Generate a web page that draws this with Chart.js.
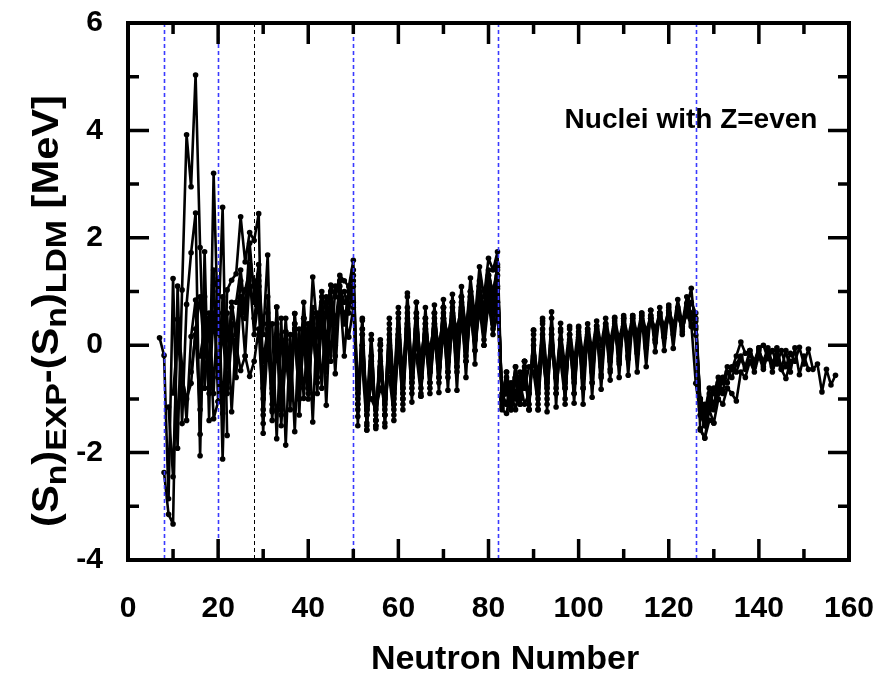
<!DOCTYPE html>
<html><head><meta charset="utf-8">
<script src="https://cdn.jsdelivr.net/npm/chart.js@4.4.1/dist/chart.umd.min.js"></script>
<style>html,body{margin:0;padding:0;background:#fff;}#wrap{width:878px;height:673px;}</style>
</head><body><div id="wrap"><canvas id="c" width="878" height="673"></canvas></div>
<script>
// ---- axis ticks ----
const xMajorTicks = [0,20,40,60,80,100,120,140,160];
const xMinorTicks = [10,30,50,70,90,110,130,150];
const yMajorTicks = [-4,-2,0,2,4,6];
const yMinorTicks = [-3,-1,1,3,5];
// ---- magic numbers (dashed guide lines) ----
const magicN = [8,20,28,50,82,126];
const magicColors = ['#3a3aff','#3a3aff','#000000','#3a3aff','#3a3aff','#3a3aff'];
// ---- isotopic chains: first neutron number and residuals (MeV) ----
const startA = 7;  const chainA = [0.14,-0.19,-2.86,1.24,-1.92,1.03,3.92,2.95,5.03,1.82,-0.80,0.50,-1.37,-1.05];
const startB = 8;  const chainB = [-2.37,-3.15,-3.33,1.10,-1.46,0.76,1.72,2.46,-2.06,1.74,-1.40,3.20,0.22,2.57,-1.68];
const startC = 9;  const chainC = [-1.15,-2.45,0.48,-0.37,-1.40,0.16,0.84,-1.66,0.47,-0.46,1.12,1.24,-2.12,1.03,1.21,1.33,2.39,1.55,2.10,1.95,2.45,-1.46];
const startD = 10; const chainD = [-0.89,0.10,-0.60,-1.00,-0.71,0.30,0.90,-0.20,0.60,-0.90,1.00,-1.27,0.60,-1.24,0.20,0.80,1.03,1.40,1.20,1.09,-0.80,0.40,-1.10];
const startE = 14; const chainE = [-0.50,0.20,-1.20,0.90,-0.80,1.40,-1.05,0.60,-0.40,0.80,0.20,1.20,0.70,1.50,1.10,1.30,0.20,1.68,-1.24,0.71,-1.20,0.25,-0.90,0.59,-1.30,0.50];
const startF = 16; const chainF = [-0.20,0.30,-0.90,0.60,-0.60,0.90,-0.40,0.70,0.10,0.90,0.50,1.10,0.80,1.20,-0.30,0.30,0.40,-1.74,0.50,-1.86,0.20,-1.61,0.30,-0.99,0.40,-1.43,0.60,-0.80,0.90,-0.30,1.10];
const startG = 28; const chainG = [0.50,1.10,-1.64,0.90,-1.20,0.71,-0.90,0.50,-0.70,0.59,-0.50,0.80,-0.30,1.27,0.30,1.00,0.60,1.12,0.90,1.30,1.20,1.09,1.58,-1.33,0.46,-1.58];
const startH = 22; const chainH = [-0.80,0.40,-0.60,0.90,-0.20,1.30,0.20,0.90,-1.00,0.40,-1.40,0.10,-1.30,0.25,-1.20,0.40,-1.00,0.50,-0.80,0.60,-0.90,0.70,-1.12,0.80,-0.53,1.00,-0.20,0.90,1.10,-1.20,0.20,-1.45,0.10,-1.50,0.03];
const startI = 20; const chainI = [-0.60,0.30,-0.90,0.10,0.00,-0.47,-0.20,-0.58,-0.30,0.30,-1.20,0.60,-0.80,0.20,-1.10,0.10,-0.90,0.30,-0.70,0.50,-0.60,0.70,-0.30,0.90,0.00,1.00,0.40,1.10,0.80];
const startJ = 32; const chainJ = [-0.50,0.20,-1.00,0.10,-0.80,0.40,-0.60,0.30,-0.90,0.40,-0.40,0.60,-0.30,0.70,0.00,0.90,0.40,1.00,0.80,-1.10,0.20,-1.20,-0.20,-1.40,0.10,-1.30,0.40,-1.10,0.60,-1.00];
const startK = 36; const chainK = [-0.30,0.20,-1.00,0.10,-0.80,0.30,-0.70,0.40,-0.50,0.60,0.20,0.80,0.60,0.15,0.70,-0.90,0.00,-1.10,0.20,-1.50,0.00,-1.20,0.50,-0.80,0.70,-0.90,0.97,-0.60,0.80,-0.95];
const startL = 24; const chainL = [0.80,1.40,0.60,1.90,0.90,1.50,-1.30,0.00,-0.90,0.40,-1.50,-0.20,-1.00,0.30,-0.80,0.20,-1.00,0.50,-0.60,0.80,-0.40,1.00,-0.20,1.20,0.40,1.00,1.40,-1.00,0.30,-1.30];
const startP1 = 57; const chainP1 = [-1.45,0.00,-1.20,0.50,-1.00,0.90,-0.80,0.80,-0.60,0.70,-0.50,0.75,-0.40,0.85,-0.30,0.95,-0.10,1.09,0.20,1.25,0.50,1.46,0.90,1.62,1.40,1.74,-1.10,-0.50,-1.00,-0.40,-1.00,-0.30];
const startP2 = 50; const chainP2 = [1.30,-1.50,0.30,-1.58,0.10,-1.55,0.00,-1.52,0.20,-1.40,0.30,-1.20,0.60,-1.06,0.50,-0.95,0.40,-0.90,0.50,-0.88,0.60,-0.84,0.70,-0.84,0.80,-0.60,0.90,-0.35,1.20,0.00,1.40,0.90,1.50,-1.20,-1.27,-0.80,-1.00,-0.60];
const startP3 = 48; const chainP3 = [1.00,0.60,1.20,-1.10,0.50,-1.30,-0.20,-1.40,-0.10,-1.30,0.10,-1.10,0.20,-0.90,0.40,-0.70,0.30,-0.60,0.20,-0.70,0.30,-0.60,0.50,-0.50,0.60,-0.40,0.70,-0.20,0.90,0.10,1.00,0.40,1.20,0.70,1.30,-1.00,-0.90,-1.10];
const startP4 = 52; const chainP4 = [-0.40,-1.50,-0.60,-1.30,-0.30,-1.10,0.30,-0.90,0.60,-0.60,0.70,-0.50,0.60,-0.40,0.50,-0.30,0.60,-0.20,0.70,0.00,0.80,0.10,0.90,0.30,1.00,0.50,1.10,0.70,1.20,0.90,1.10,-0.90,-1.10,-0.70,-0.90,-0.50,-0.80,-0.40];
const startP5 = 54; const chainP5 = [-1.00,-1.20,-0.80,-1.00,-0.40,-0.70,0.10,-0.40,0.30,-0.30,0.20,-0.20,0.30,-0.10,0.40,0.00,0.50,0.20,0.60,0.30,0.70,0.40,0.80,0.60,0.90,0.50,1.00,0.40,0.80,-1.00,-0.70,-1.20,-0.60,-1.10,-0.40,-1.20,0.28,-1.20,0.50,-1.10];
const startP6 = 60; const chainP6 = [0.20,-0.80,0.50,-0.70,0.50,-0.60,0.40,-0.50,0.60,-0.40,0.70,-0.30,0.80,-0.20,0.90,0.00,1.00,0.20,1.10,0.50,1.30,0.60,1.40,-1.00,-0.80,-1.10,-0.60,-1.00,-0.30,-1.10,0.20];
const startP7 = 51; const chainP7 = [-0.80,0.00,-1.20,-0.30,-1.40,-0.40,-1.30,-0.20,-1.00,0.10,-0.80,0.40,-0.60,0.60,-0.50,0.50,-0.40,0.60,-0.30,0.70,-0.20,0.80,-0.10,0.90,0.10,1.00,0.30,1.10,0.60,1.30,1.00,1.45,-1.15,-0.70,-1.05];
const startP8 = 58; const chainP8 = [-0.60,-1.30,0.00,-1.10,0.30,-0.90,0.20,-0.80,0.30,-0.70,0.40,-0.60,0.50,-0.50,0.55,-0.40,0.65,-0.30,0.75,-0.10,0.85,0.10,0.95,0.30,1.05,-1.05,-0.60,-1.15];
const startP9 = 64; const chainP9 = [-0.20,-0.90,0.10,-0.80,0.20,-0.70,0.30,-0.60,0.40,-0.50,0.50,-0.30,0.60,-0.10,0.70,0.00,0.80,0.20,0.60,-0.95,-0.50,-1.00,-0.40,-0.95];
const startQ1 = 88; const chainQ1 = [-0.30,-1.20,0.28,-1.20,0.45,-1.24,0.62,-1.15,0.41,-1.10,0.35,-1.08,0.32,-1.10,0.30,-0.97,0.36,-0.82,0.40,-0.65,0.52,-0.60,0.55,-0.56,0.50,-0.50,0.55,-0.40,0.65,-0.12,0.60,-0.10,0.70,-0.06,0.70,0.20,0.78,0.60,0.50,-1.30,-1.50];
const startQ2 = 85; const chainQ2 = [-1.20,-0.60,-1.10,-0.50,-1.20,0.10,-0.90,0.30,-0.80,0.50,-0.90,0.30,-0.80,0.20,-0.90,0.20,-0.80,0.25,-0.70,0.30,-0.60,0.35,-0.50,0.40,-0.30,0.45,-0.20,0.50,-0.10,0.55,0.00,0.55,0.10,0.60,0.20,0.60,0.30,0.65,0.35,0.70,1.06,0.19,-1.58,-1.73,-1.40,-1.45];
const startQ3 = 86; const chainQ3 = [-0.90,-1.00,-0.60,-0.90,0.00,-0.60,0.40,-0.50,0.20,-0.60,0.10,-0.50,0.10,-0.40,0.15,-0.35,0.20,-0.30,0.20,-0.20,0.30,-0.10,0.35,0.00,0.40,0.10,0.45,0.20,0.50,0.25,0.50,0.30,0.55,0.35,0.60,0.40,0.60,0.45,0.70,0.40,-0.71,-1.30,-1.10,-1.20,-0.80];
const startQ4 = 84; const chainQ4 = [-1.10,-0.90,-1.20,-0.70,-1.10,-0.90,-0.20,-1.00,0.20,-0.70,0.00,-0.80,-0.10,-0.70,0.00,-0.60,0.05,-0.50,0.10,-0.40,0.15,-0.30,0.20,-0.20,0.30,-0.10,0.35,0.00,0.40,0.05,0.45,0.10,0.50,0.20,0.50,0.25,0.50,0.30,0.55,0.30,0.60,0.35,0.30,-1.00,-1.20];
const startQ5 = 92; const chainQ5 = [-0.20,-0.90,0.30,-0.60,0.25,-0.40,0.30,-0.30,0.35,-0.20,0.40,-0.10,0.45,0.00,0.50,0.05,0.50,0.10,0.50,0.15,0.55,0.20,0.60,0.25,0.55,0.30,0.60,0.35,0.65,0.40,0.60,0.45,0.55,0.80,0.60,-1.10,-1.30,-0.90,-1.10,-0.80,-0.90];
const startQ6 = 90; const chainQ6 = [-0.50,-1.10,0.00,-1.00,0.20,-0.90,0.10,-0.80,0.05,-0.70,0.10,-0.60,0.15,-0.50,0.20,-0.40,0.25,-0.30,0.30,-0.25,0.35,-0.20,0.40,-0.10,0.45,0.00,0.50,0.10,0.55,0.15,0.60,0.20,0.62,0.25,0.65,0.50,0.45,-1.05,-1.35];
const startQ7 = 96; const chainQ7 = [-0.30,-1.00,0.20,-0.90,0.25,-0.80,0.30,-0.70,0.35,-0.55,0.40,-0.45,0.45,-0.35,0.50,-0.25,0.55,-0.15,0.60,-0.05,0.65,0.05,0.70,0.15,0.75,0.30,0.85,0.40,0.90,0.55,0.35,-1.15,-1.45,-1.10];
const startR1 = 127; const chainR1 = [-1.00,-1.25,-0.80,-0.90,-0.60,-0.70,-0.40,-0.45,-0.20,0.06,-0.15,-0.10,-0.30,-0.05,0.00,-0.25,-0.10,-0.35,-0.10,-0.40,-0.15,-0.30,-0.04,-0.35,-0.07,-0.45,-0.35,-0.87,-0.45,-0.74,-0.56];
const startR2 = 127; const chainR2 = [-1.55,-1.73,-1.20,-1.45,-1.00,-1.10,-0.80,-0.90,-1.04,-0.50,-0.60,-0.30,-0.50,-0.20,-0.45,-0.15,-0.50,-0.20,-0.45,-0.62,-0.30];
const startR3 = 127; const chainR3 = [-1.20,-1.40,-1.00,-1.10,-0.70,-0.85,-0.50,-0.60,-0.35,-0.20,-0.40,-0.10,-0.35,-0.05,-0.40,-0.10,-0.40,-0.05,-0.45,-0.10,-0.50,-0.05,-0.55,-0.20,-0.45];
const startR4 = 128; const chainR4 = [-1.50,-1.10,-1.20,-0.90,-0.60,-0.70,-0.40,-0.50,-0.25,-0.45,-0.15,-0.40,-0.10,-0.30,-0.05,-0.35,-0.10,-0.40];

const chains = [
  [startA,chainA],[startB,chainB],[startC,chainC],[startD,chainD],[startE,chainE],[startF,chainF],
  [startG,chainG],[startH,chainH],[startI,chainI],[startJ,chainJ],[startK,chainK],[startL,chainL],
  [startP1,chainP1],[startP2,chainP2],[startP3,chainP3],[startP4,chainP4],[startP5,chainP5],
  [startP6,chainP6],[startP7,chainP7],[startP8,chainP8],[startP9,chainP9],
  [startQ1,chainQ1],[startQ2,chainQ2],[startQ3,chainQ3],[startQ4,chainQ4],[startQ5,chainQ5],
  [startQ6,chainQ6],[startQ7,chainQ7],
  [startR1,chainR1],[startR2,chainR2],[startR3,chainR3],[startR4,chainR4]
];

const FONT = "'Liberation Sans', Arial, sans-serif";

const datasets = chains.map(([s,vals]) => ({
  data: vals.map((v,i)=>({x:s+i,y:v})),
  borderColor:'#000', backgroundColor:'#000', borderWidth:2.6,
  pointRadius:2.8, pointBackgroundColor:'#000', pointBorderWidth:0,
  tension:0, fill:false
}));

const zeroPad = s => { s.paddingLeft = 0; s.paddingRight = 0; s.paddingTop = 0; s.paddingBottom = 0; };

const decor = {
  id:'decor',
  afterDatasetsDraw(chart){
    const {ctx, chartArea:a, scales:{x,y}} = chart;
    ctx.save();
    magicN.forEach((n,i)=>{
      const px = Math.round(x.getPixelForValue(n))+0.5;
      ctx.beginPath();
      ctx.strokeStyle = magicColors[i];
      ctx.lineWidth = magicColors[i]==='#000000' ? 1 : 1.6;
      ctx.setLineDash([4,3]);
      ctx.moveTo(px, a.top); ctx.lineTo(px, a.bottom); ctx.stroke();
    });
    ctx.setLineDash([]);
    ctx.strokeStyle='#000'; ctx.lineWidth=4;
    ctx.strokeRect(a.left, a.top, a.right-a.left, a.bottom-a.top);
    ctx.lineWidth = 3.5;
    const major = 21, minor = 11;
    const tickX = (v,len)=>{
      const px = x.getPixelForValue(v);
      ctx.beginPath();
      ctx.moveTo(px,a.bottom); ctx.lineTo(px,a.bottom-len);
      ctx.moveTo(px,a.top); ctx.lineTo(px,a.top+len);
      ctx.stroke();
    };
    const tickY = (v,len)=>{
      const py = y.getPixelForValue(v);
      ctx.beginPath();
      ctx.moveTo(a.left,py); ctx.lineTo(a.left+len,py);
      ctx.moveTo(a.right,py); ctx.lineTo(a.right-len,py);
      ctx.stroke();
    };
    xMajorTicks.forEach(v=>tickX(v,major));
    xMinorTicks.forEach(v=>tickX(v,minor));
    yMajorTicks.forEach(v=>tickY(v,major));
    yMinorTicks.forEach(v=>tickY(v,minor));
    ctx.restore();
  },
  afterDraw(chart){
    const {ctx} = chart;
    ctx.save();
    ctx.fillStyle='#000';
    ctx.font = "bold 28px "+FONT;
    ctx.textAlign='center'; ctx.textBaseline='alphabetic';
    ctx.fillText('Nuclei with Z=even', 691, 128);
    ctx.font = "bold 34px "+FONT;
    ctx.fillText('Neutron Number', 505, 669);
    const parts = [['(S',0],['n',1],[')',0],['EXP',1],['-(S',0],['n',1],[')',0],['LDM',1],[' [MeV]',0]];
    const big = "bold 37px "+FONT, small = "bold 30px "+FONT;
    let W = 0;
    parts.forEach(([t,s])=>{ ctx.font = s?small:big; W += ctx.measureText(t).width; });
    const target = 432;
    const sx = target / W;
    ctx.translate(58, 311);
    ctx.rotate(-Math.PI/2);
    ctx.scale(sx,1);
    ctx.textAlign='left';
    let cx = -W/2;
    parts.forEach(([t,s])=>{
      ctx.font = s?small:big;
      ctx.fillText(t, cx, s?8:0);
      cx += ctx.measureText(t).width;
    });
    ctx.restore();
  }
};

new Chart(document.getElementById('c'), {
  type:'line',
  data:{datasets},
  options:{
    responsive:false, animation:false, devicePixelRatio:1,
    layout:{padding:{left:0,top:23,right:29,bottom:0}},
    plugins:{legend:{display:false}, tooltip:{enabled:false}, title:{display:false}},
    elements:{line:{borderJoinStyle:'round'}},
    scales:{
      x:{type:'linear', min:0, max:160,
         afterBuildTicks: s=>{ s.ticks = xMajorTicks.map(v=>({value:v})); },
         afterFit: s=>{ s.height = 113; zeroPad(s); },
         grid:{display:false, drawTicks:false}, border:{display:false},
         ticks:{color:'#000', font:{family:FONT, size:30, weight:'bold'}, padding:31, maxRotation:0, autoSkip:false}},
      y:{type:'linear', min:-4, max:6,
         afterBuildTicks: s=>{ s.ticks = yMajorTicks.map(v=>({value:v})); },
         afterFit: s=>{ s.width = 128; zeroPad(s); },
         grid:{display:false, drawTicks:false}, border:{display:false},
         ticks:{color:'#000', font:{family:FONT, size:30, weight:'bold'}, padding:25, autoSkip:false}}
    }
  },
  plugins:[decor]
});
</script></body></html>
